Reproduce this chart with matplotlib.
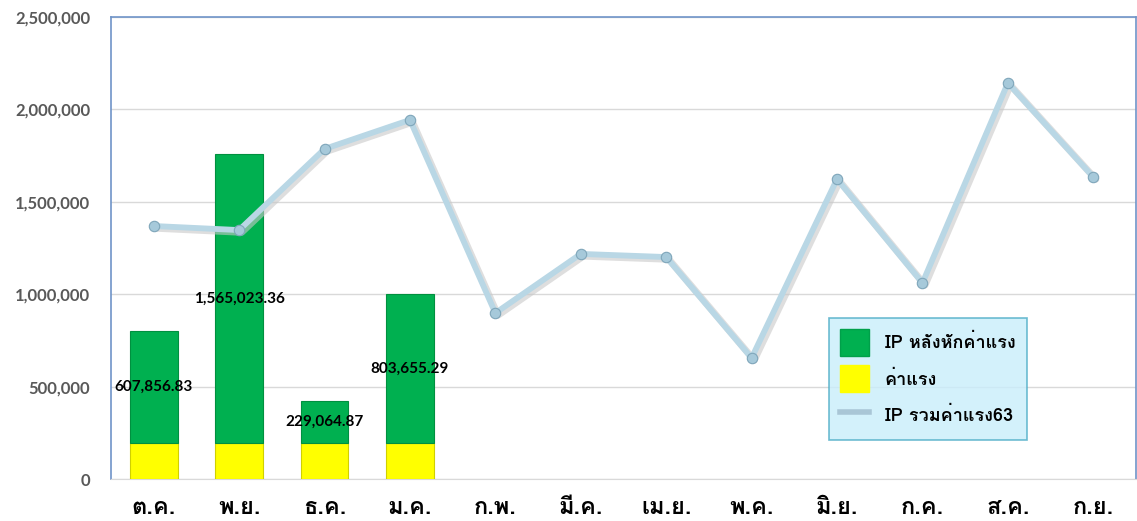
import matplotlib
matplotlib.use("Agg")
import matplotlib.pyplot as plt
from matplotlib import font_manager
from matplotlib.ft2font import FT2Font
from matplotlib.lines import Line2D
from matplotlib.patches import Patch
from matplotlib.ticker import FuncFormatter
import numpy as np

# ── Data ────────────────────────────────────────────────────────────────────
months = ["ต.ค.", "พ.ย.", "ธ.ค.", "ม.ค.", "ก.พ.", "มี.ค.",
          "เม.ย.", "พ.ค.", "มิ.ย.", "ก.ค.", "ส.ค.", "ก.ย."]
wage = [195000, 195000, 195000, 195000]                        # ค่าแรง
ip_net = [607856.83, 1565023.36, 229064.87, 803655.29]         # IP หลังหักค่าแรง
ip_total_63 = [1369000, 1347000, 1786000, 1943000, 898000, 1218000,
               1201000, 655000, 1623000, 1061000, 2143000, 1634000]

# ── Font: find something that can draw Thai ────────────────────────────────
thai_fams = []
for f in font_manager.fontManager.ttflist:
    try:
        if 0x0E01 in FT2Font(f.fname).get_charmap() and f.name not in thai_fams:
            thai_fams.append(f.name)
    except Exception:
        pass
plt.rcParams['font.family'] = thai_fams + ['DejaVu Sans']
num_font = ['Lato', 'DejaVu Sans']

# ── Plot ────────────────────────────────────────────────────────────────────
fig = plt.figure(figsize=(11.37, 5.21), dpi=100)
ax = fig.add_axes([111 / 1137, 42 / 521, 1025 / 1137, 462 / 521])

x = np.arange(len(months))
xb = x[:len(ip_net)]
w = 0.56
ax.bar(xb, wage, w, color='#FFFF00', edgecolor='#D0D000', lw=0.8, zorder=3)
ax.bar(xb, ip_net, w, bottom=wage, color='#00B050', edgecolor='#00903F',
       lw=0.8, zorder=3)
for xi, b, v in zip(xb, wage, ip_net):
    ax.text(xi, b + v / 2, f"{v:,.2f}", ha='center', va='center',
            fontsize=11, fontweight='bold', color='black', zorder=6,
            family=num_font)

# line with a soft shadow
ax.plot(x + 0.03, np.array(ip_total_63) - 12000, color='#C8C8C8', lw=5,
        alpha=0.6, zorder=3, solid_capstyle='round')
ax.plot(x, ip_total_63, color='#B9D7E5', lw=4.2, zorder=4,
        solid_capstyle='round', solid_joinstyle='round')
ax.plot(x, ip_total_63, 'o', ms=7.5, mfc='#A6C9DA', mec='#7FA6BA', mew=0.8,
        zorder=5)

ax.set_xlim(-0.5, 11.5)
ax.set_ylim(0, 2500000)
ax.set_yticks(np.arange(0, 2500001, 500000))
ax.yaxis.set_major_formatter(FuncFormatter(lambda v, p: f"{v:,.0f}"))
ax.tick_params(axis='y', length=0, pad=15, labelcolor='#595959')
for lab in ax.get_yticklabels():
    lab.set_fontweight('bold')
    lab.set_fontsize(12)
    lab.set_family(num_font)
ax.set_xticks(x)
ax.set_xticklabels(months, fontsize=17, fontweight='bold')
ax.tick_params(axis='x', length=0, pad=12)
ax.grid(axis='y', color='#D9D9D9', lw=1, zorder=0)

for s in ['left', 'top', 'right']:
    ax.spines[s].set_color('#6F94C8')
    ax.spines[s].set_linewidth(1.2)
ax.spines['bottom'].set_color('#D9D9D9')

handles = [Patch(facecolor='#00B050', edgecolor='#00A04A'),
           Patch(facecolor='#FFFF00', edgecolor='#FFFF00'),
           Line2D([0], [0], color='#A9C6D6', lw=4)]
labels = ["IP หลังหักค่าแรง", "ค่าแรง", "IP รวมค่าแรง63"]
leg = ax.legend(handles, labels, loc='upper left',
                bbox_to_anchor=(718 / 1025, 1 - (318 - 17) / 462),
                frameon=True, fontsize=13, handlelength=1.6, handleheight=1.9,
                labelspacing=0.55, borderpad=0.6, handletextpad=0.9,
                borderaxespad=0, fancybox=False)
leg.get_frame().set_facecolor('#C9EEFB')
leg.get_frame().set_edgecolor('#4BACC6')
leg.get_frame().set_linewidth(1.2)
for t in leg.get_texts():
    t.set_fontweight('bold')

fig.savefig("out.png", dpi=100)
